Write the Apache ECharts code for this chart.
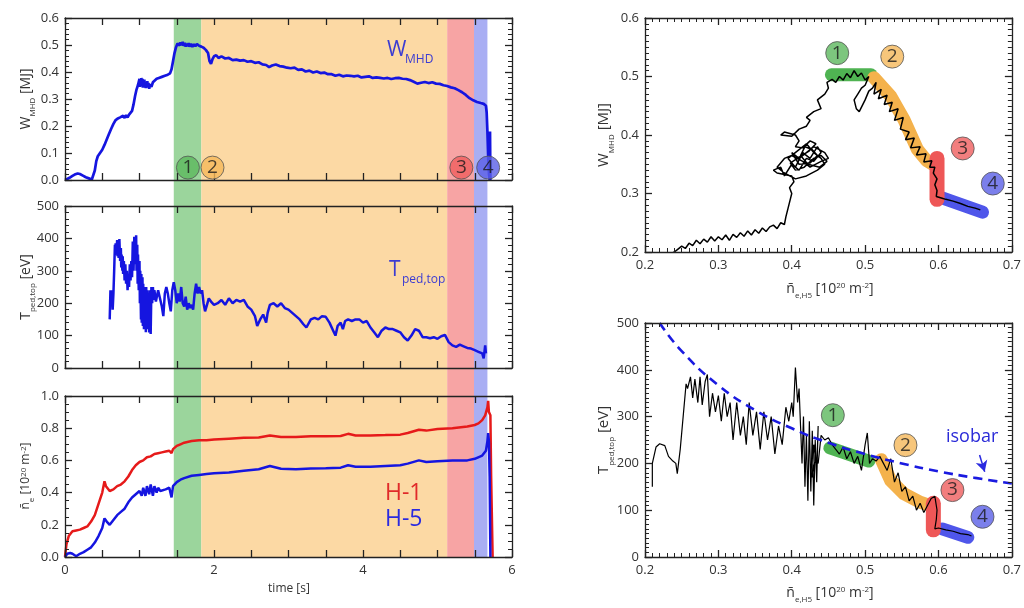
<!DOCTYPE html>
<html>
<head>
<meta charset="utf-8">
<script src="https://cdn.jsdelivr.net/npm/echarts/dist/echarts.min.js"></script>
<style>
html,body{margin:0;padding:0;background:#fff;}
#chart{width:1024px;height:608px;}
</style>
</head>
<body>
<div id="chart"></div>
<script>
// ---------------- DATA ----------------
const bandEdges = [1.46, 1.83, 5.13, 5.49, 5.67];   // phase boundaries in time [s]
const phaseLabels = ['1', '2', '3', '4'];

const wmhd = [
[0,0.0],[0.03,0.004],[0.06,0.008],[0.1,0.015],[0.13,0.02],[0.17,0.024],[0.2,0.022],[0.24,0.016],[0.28,0.01],[0.32,0.006],[0.36,0.002],[0.38,0.004],[0.4,0.035],[0.42,0.07],[0.44,0.088],[0.47,0.1],[0.5,0.112],[0.53,0.13],[0.56,0.15],[0.59,0.17],[0.62,0.19],[0.65,0.208],[0.68,0.222],[0.71,0.228],[0.74,0.232],[0.76,0.226],[0.78,0.238],[0.8,0.23],[0.82,0.24],[0.84,0.232],[0.86,0.242],[0.88,0.246],[0.9,0.256],[0.92,0.28],[0.94,0.31],[0.96,0.335],[0.98,0.352],[1.0,0.375],[1.005,0.345],[1.01,0.37],[1.02,0.348],[1.025,0.378],[1.03,0.35],[1.04,0.375],[1.045,0.342],[1.05,0.37],[1.06,0.345],[1.065,0.372],[1.07,0.342],[1.08,0.365],[1.085,0.34],[1.09,0.362],[1.1,0.344],[1.105,0.366],[1.11,0.342],[1.12,0.36],[1.13,0.338],[1.14,0.355],[1.16,0.345],[1.18,0.362],[1.2,0.368],[1.23,0.375],[1.26,0.378],[1.3,0.382],[1.34,0.386],[1.38,0.39],[1.41,0.395],[1.43,0.41],[1.45,0.44],[1.47,0.47],[1.49,0.492],[1.51,0.505],[1.53,0.512],[1.54,0.498],[1.55,0.51],[1.57,0.5],[1.58,0.512],[1.59,0.497],[1.61,0.508],[1.62,0.494],[1.63,0.505],[1.65,0.496],[1.66,0.507],[1.67,0.494],[1.69,0.504],[1.71,0.493],[1.73,0.503],[1.75,0.495],[1.77,0.504],[1.8,0.497],[1.83,0.494],[1.86,0.49],[1.89,0.482],[1.92,0.47],[1.94,0.44],[1.96,0.43],[1.98,0.448],[2.0,0.458],[2.03,0.462],[2.06,0.452],[2.1,0.458],[2.15,0.45],[2.2,0.452],[2.25,0.444],[2.3,0.446],[2.35,0.442],[2.4,0.444],[2.45,0.438],[2.5,0.44],[2.55,0.434],[2.6,0.436],[2.65,0.428],[2.7,0.426],[2.74,0.418],[2.78,0.424],[2.83,0.428],[2.88,0.422],[2.93,0.42],[2.98,0.416],[3.03,0.414],[3.08,0.416],[3.13,0.408],[3.18,0.41],[3.23,0.402],[3.28,0.405],[3.33,0.398],[3.38,0.402],[3.43,0.396],[3.48,0.398],[3.53,0.392],[3.58,0.392],[3.63,0.386],[3.68,0.39],[3.73,0.384],[3.78,0.387],[3.83,0.386],[3.88,0.384],[3.93,0.386],[3.98,0.38],[4.03,0.382],[4.08,0.384],[4.13,0.378],[4.18,0.38],[4.23,0.378],[4.28,0.376],[4.33,0.378],[4.38,0.374],[4.43,0.377],[4.48,0.378],[4.53,0.375],[4.58,0.374],[4.63,0.37],[4.68,0.364],[4.73,0.357],[4.78,0.36],[4.83,0.363],[4.88,0.359],[4.93,0.362],[4.98,0.357],[5.03,0.356],[5.08,0.351],[5.13,0.348],[5.18,0.343],[5.23,0.34],[5.28,0.333],[5.33,0.325],[5.38,0.315],[5.43,0.303],[5.48,0.295],[5.53,0.289],[5.58,0.285],[5.62,0.282],[5.65,0.275],[5.66,0.25],[5.67,0.18],[5.68,0.09],[5.69,0.02],[5.7,0.0],[5.705,0.18],[5.71,0.0]
];
const tped = [
[0.6,150],[0.61,240],[0.62,215],[0.63,240],[0.64,180],[0.65,230],[0.66,300],[0.67,380],[0.675,350],[0.68,385],[0.69,360],[0.7,395],[0.705,345],[0.71,390],[0.72,340],[0.73,398],[0.74,330],[0.75,370],[0.755,310],[0.76,350],[0.77,300],[0.775,345],[0.78,290],[0.79,330],[0.8,270],[0.81,320],[0.82,260],[0.83,300],[0.84,240],[0.85,290],[0.86,250],[0.87,320],[0.88,270],[0.89,330],[0.9,280],[0.91,390],[0.92,300],[0.93,405],[0.935,320],[0.94,400],[0.95,330],[0.955,410],[0.96,300],[0.97,380],[0.975,260],[0.98,350],[0.99,240],[1.0,330],[1.005,200],[1.01,300],[1.02,150],[1.025,290],[1.03,140],[1.04,280],[1.045,130],[1.05,260],[1.06,120],[1.065,250],[1.07,130],[1.08,240],[1.085,110],[1.09,250],[1.1,140],[1.105,240],[1.11,120],[1.12,230],[1.13,110],[1.14,240],[1.15,105],[1.16,250],[1.17,200],[1.18,250],[1.19,210],[1.2,240],[1.22,205],[1.25,240],[1.28,210],[1.3,190],[1.32,160],[1.34,230],[1.36,250],[1.38,230],[1.4,200],[1.42,175],[1.44,240],[1.46,265],[1.48,240],[1.5,200],[1.52,230],[1.54,205],[1.56,250],[1.58,200],[1.6,190],[1.62,220],[1.64,180],[1.66,200],[1.68,185],[1.7,195],[1.72,180],[1.74,230],[1.76,260],[1.78,230],[1.8,250],[1.82,230],[1.84,240],[1.86,200],[1.88,175],[1.9,190],[1.93,215],[1.96,205],[2.0,195],[2.05,200],[2.1,210],[2.15,195],[2.2,215],[2.25,200],[2.3,210],[2.35,205],[2.4,210],[2.45,190],[2.5,180],[2.55,160],[2.58,130],[2.62,150],[2.66,165],[2.7,140],[2.72,170],[2.75,195],[2.8,200],[2.85,190],[2.9,200],[2.95,185],[3.0,180],[3.05,170],[3.1,160],[3.15,150],[3.2,135],[3.24,125],[3.3,150],[3.35,155],[3.4,150],[3.45,160],[3.5,158],[3.55,140],[3.6,115],[3.63,100],[3.66,130],[3.7,140],[3.73,120],[3.76,145],[3.8,150],[3.85,145],[3.9,150],[3.95,150],[4.0,140],[4.05,145],[4.1,125],[4.15,110],[4.2,95],[4.25,115],[4.3,125],[4.35,120],[4.4,120],[4.45,115],[4.5,110],[4.55,95],[4.6,85],[4.65,100],[4.7,120],[4.75,115],[4.8,95],[4.85,95],[4.9,92],[4.95,95],[5.0,90],[5.05,98],[5.1,102],[5.15,80],[5.2,70],[5.25,65],[5.3,72],[5.35,67],[5.4,62],[5.45,60],[5.5,55],[5.55,50],[5.6,45],[5.62,30],[5.64,70],[5.65,45]
];
const neH1 = [
[0,0.0],[0.02,0.08],[0.05,0.13],[0.1,0.16],[0.15,0.165],[0.2,0.17],[0.25,0.18],[0.3,0.19],[0.35,0.22],[0.4,0.26],[0.45,0.33],[0.5,0.4],[0.53,0.47],[0.55,0.44],[0.6,0.41],[0.65,0.42],[0.7,0.44],[0.75,0.45],[0.8,0.47],[0.85,0.5],[0.9,0.54],[0.95,0.57],[1.0,0.59],[1.05,0.6],[1.1,0.62],[1.15,0.625],[1.2,0.64],[1.25,0.645],[1.3,0.65],[1.35,0.655],[1.4,0.66],[1.43,0.645],[1.45,0.67],[1.5,0.69],[1.55,0.7],[1.6,0.71],[1.7,0.72],[1.8,0.725],[1.9,0.725],[2.0,0.73],[2.2,0.735],[2.4,0.74],[2.6,0.742],[2.75,0.755],[2.9,0.745],[3.1,0.745],[3.3,0.75],[3.5,0.75],[3.7,0.752],[3.8,0.765],[3.9,0.755],[4.1,0.755],[4.3,0.757],[4.5,0.76],[4.6,0.77],[4.75,0.79],[4.85,0.785],[5.0,0.795],[5.2,0.8],[5.4,0.81],[5.5,0.82],[5.55,0.83],[5.6,0.85],[5.64,0.88],[5.67,0.93],[5.68,0.97],[5.69,0.9],[5.71,0.88],[5.72,0.5],[5.74,0.0]
];
const neH5 = [
[0,0.0],[0.03,0.02],[0.07,0.025],[0.1,0.02],[0.15,0.005],[0.2,0.02],[0.25,0.03],[0.3,0.045],[0.35,0.06],[0.4,0.09],[0.45,0.13],[0.5,0.18],[0.53,0.24],[0.56,0.22],[0.6,0.2],[0.65,0.23],[0.7,0.26],[0.75,0.28],[0.8,0.3],[0.85,0.34],[0.9,0.37],[0.95,0.39],[1.0,0.41],[1.03,0.38],[1.05,0.43],[1.08,0.38],[1.1,0.44],[1.13,0.39],[1.15,0.45],[1.18,0.38],[1.2,0.44],[1.23,0.4],[1.25,0.43],[1.28,0.41],[1.3,0.42],[1.35,0.42],[1.4,0.43],[1.43,0.37],[1.45,0.44],[1.5,0.465],[1.55,0.48],[1.6,0.49],[1.7,0.505],[1.8,0.51],[1.9,0.515],[2.0,0.52],[2.2,0.525],[2.4,0.535],[2.6,0.545],[2.75,0.565],[2.9,0.548],[3.1,0.545],[3.3,0.55],[3.5,0.552],[3.7,0.555],[3.8,0.57],[3.9,0.56],[4.1,0.56],[4.3,0.565],[4.5,0.57],[4.6,0.58],[4.75,0.6],[4.85,0.59],[5.0,0.595],[5.2,0.6],[5.4,0.6],[5.5,0.61],[5.6,0.63],[5.65,0.66],[5.67,0.72],[5.68,0.77],[5.69,0.72],[5.7,0.5],[5.71,0.0]
];
const circlesTime = [[1.65,0.046],[1.98,0.046],[5.32,0.046],[5.68,0.046]];

const wTraj = [
[0.232,0.195],[0.24,0.2],[0.245,0.205],[0.25,0.21],[0.255,0.206],[0.26,0.215],[0.265,0.211],[0.27,0.22],[0.275,0.214],[0.28,0.222],[0.285,0.217],[0.29,0.226],[0.295,0.219],[0.3,0.226],[0.305,0.221],[0.31,0.229],[0.315,0.22],[0.32,0.23],[0.325,0.225],[0.33,0.233],[0.335,0.227],[0.34,0.236],[0.345,0.229],[0.35,0.238],[0.355,0.232],[0.36,0.241],[0.365,0.235],[0.37,0.243],[0.375,0.246],[0.38,0.24],[0.385,0.25],[0.39,0.247],[0.392,0.26],[0.395,0.275],[0.398,0.29],[0.4,0.3],[0.397,0.31],[0.403,0.32],[0.4,0.33],[0.38,0.335],[0.375,0.34],[0.385,0.345],[0.39,0.33],[0.4,0.35],[0.41,0.34],[0.42,0.36],[0.43,0.355],[0.44,0.37],[0.435,0.38],[0.425,0.36],[0.415,0.37],[0.405,0.345],[0.395,0.36],[0.41,0.375],[0.42,0.385],[0.43,0.37],[0.44,0.36],[0.445,0.35],[0.435,0.34],[0.42,0.33],[0.405,0.325],[0.39,0.335],[0.38,0.345],[0.39,0.36],[0.4,0.365],[0.415,0.355],[0.425,0.345],[0.44,0.355],[0.45,0.36],[0.445,0.37],[0.43,0.38],[0.42,0.37],[0.41,0.36],[0.4,0.37],[0.41,0.35],[0.425,0.352],[0.435,0.365],[0.428,0.375],[0.418,0.38],[0.412,0.365],[0.422,0.35],[0.438,0.345],[0.448,0.355],[0.44,0.365],[0.43,0.36],[0.417,0.345],[0.405,0.34],[0.398,0.352],[0.41,0.362],[0.423,0.372],[0.433,0.385],[0.425,0.39],[0.415,0.378],[0.405,0.38],[0.41,0.39],[0.405,0.4],[0.39,0.405],[0.385,0.4],[0.4,0.398],[0.41,0.41],[0.42,0.415],[0.425,0.425],[0.42,0.43],[0.43,0.44],[0.44,0.445],[0.435,0.46],[0.445,0.47],[0.45,0.48],[0.448,0.49],[0.455,0.495],[0.46,0.49],[0.465,0.5],[0.47,0.494],[0.475,0.505],[0.48,0.498],[0.485,0.51],[0.49,0.5],[0.495,0.506],[0.5,0.494],[0.505,0.5],[0.5,0.485],[0.495,0.48],[0.49,0.47],[0.485,0.46],[0.488,0.445],[0.492,0.44],[0.5,0.46],[0.505,0.475],[0.51,0.48],[0.515,0.49],[0.512,0.47],[0.522,0.478],[0.518,0.462],[0.53,0.468],[0.526,0.452],[0.537,0.456],[0.533,0.44],[0.545,0.445],[0.54,0.425],[0.552,0.43],[0.548,0.41],[0.56,0.405],[0.555,0.392],[0.567,0.395],[0.562,0.378],[0.575,0.38],[0.57,0.366],[0.583,0.368],[0.58,0.354],[0.591,0.356],[0.588,0.345],[0.595,0.345],[0.593,0.335],[0.598,0.325],[0.595,0.315],[0.598,0.305],[0.597,0.295],[0.605,0.292],[0.61,0.29],[0.62,0.287],[0.63,0.283],[0.64,0.278],[0.65,0.275],[0.657,0.272]
];
const wPhase1 = [[0.454,0.503],[0.508,0.503]];
const wPhase2 = [[0.512,0.498],[0.535,0.466],[0.553,0.426],[0.571,0.376],[0.584,0.356],[0.592,0.35]];
const wPhase3 = [[0.598,0.36],[0.598,0.29]];
const wPhase4 = [[0.602,0.294],[0.66,0.268]];
const wCircles = [[0.462,0.54],[0.537,0.534],[0.633,0.377],[0.674,0.317]];

const tTraj = [
[0.21,150],[0.21,200],[0.215,235],[0.22,242],[0.227,238],[0.232,215],[0.238,205],[0.242,200],[0.244,178],[0.248,230],[0.252,300],[0.256,370],[0.258,360],[0.262,385],[0.265,340],[0.268,380],[0.272,330],[0.275,385],[0.278,325],[0.282,375],[0.285,390],[0.288,300],[0.292,350],[0.296,310],[0.3,345],[0.304,290],[0.308,350],[0.312,300],[0.316,330],[0.32,250],[0.325,330],[0.33,260],[0.334,300],[0.338,240],[0.342,330],[0.347,260],[0.352,310],[0.357,230],[0.362,310],[0.367,250],[0.372,300],[0.377,220],[0.382,280],[0.387,240],[0.392,320],[0.396,290],[0.4,330],[0.402,300],[0.405,405],[0.408,330],[0.41,360],[0.412,280],[0.414,200],[0.416,300],[0.418,150],[0.42,260],[0.422,120],[0.424,290],[0.426,140],[0.428,270],[0.43,110],[0.432,250],[0.434,160],[0.436,280],[0.434,190],[0.43,240],[0.428,170],[0.432,210],[0.436,200],[0.44,260],[0.445,250],[0.45,255],[0.455,240],[0.46,230],[0.465,220],[0.47,235],[0.475,210],[0.48,225],[0.485,200],[0.49,215],[0.495,185],[0.5,240],[0.503,265],[0.506,200],[0.51,210],[0.515,205],[0.52,215],[0.525,200],[0.53,185],[0.535,210],[0.54,160],[0.545,180],[0.55,140],[0.555,150],[0.56,120],[0.565,130],[0.57,100],[0.575,115],[0.58,95],[0.585,110],[0.59,125],[0.595,130],[0.598,100],[0.597,80],[0.595,60],[0.6,62],[0.61,58],[0.62,55],[0.63,50],[0.64,48],[0.645,45]
];
const isobar = [[0.22,500],[0.25,440],[0.3,367],[0.35,314],[0.4,275],[0.45,244],[0.5,220],[0.55,200],[0.6,183],[0.65,169],[0.7,157]];
const tPhase1 = [[0.452,233],[0.505,205]];
const tPhase2 = [[0.522,208],[0.535,163],[0.553,135],[0.575,117],[0.585,112]];
const tPhase3 = [[0.593,115],[0.593,58]];
const tPhase4 = [[0.605,60],[0.64,42]];
const tCircles = [[0.456,303],[0.555,239],[0.619,143],[0.66,86]];
const isobarArrow = [[0.656,218],[0.663,182]];

// ---------------- STYLE ----------------
const FONT = "'Open Sans', 'DejaVu Sans', sans-serif";
const AX = '#222';
const phaseFill = ['#5cb85e', '#f5b85a', '#ef5e5e', '#5a5fe6'];
const bandFill = ['#9bd59c', '#fcd9a4', '#f7a4a4', '#a9aef3'];
const strokeCol = ['#4fb352', '#f4b24c', '#ee5757', '#4f56ea'];

function makeAxis(kind, side, g, min, max, interval, minor, labelShow, fmt) {
  const ax = {
    gridIndex: g, type: 'value', min: min, max: max, interval: interval, z: 10, position: side,
    axisLine: {show: true, onZero: false, lineStyle: {color: AX, width: 1.3}},
    axisTick: {show: true, inside: true, length: 7, lineStyle: {color: AX, width: 1.3}},
    splitLine: {show: false}
  };
  if (minor > 0) ax.minorTick = {show: true, splitNumber: minor, length: 4, lineStyle: {color: AX, width: 1}};
  ax.axisLabel = labelShow ? {show: true, formatter: fmt, margin: kind === 'x' ? 7 : 6, color: '#333', fontSize: 13, fontFamily: FONT} : {show: false};
  return ax;
}
function axisPair(kind, g, min, max, interval, minor, labelShow, fmt) {
  return [
    makeAxis(kind, kind === 'x' ? 'bottom' : 'left', g, min, max, interval, minor, labelShow, fmt),
    makeAxis(kind, kind === 'x' ? 'top' : 'right', g, min, max, interval, minor, false)
  ];
}
const f1 = v => v.toFixed(1);
const fInt = v => String(Math.round(v));
const fTime = v => (Math.abs(v % 2) < 1e-9 ? String(v) : '');

const xAxes = [{gridIndex: 0, type: 'value', min: 0, max: 6, show: false}];
const yAxes = [{gridIndex: 0, type: 'value', min: 0, max: 1, show: false}];
xAxes.push(...axisPair('x', 1, 0, 6, 0.5, 0, false, fTime));
xAxes.push(...axisPair('x', 2, 0, 6, 0.5, 0, false, fTime));
xAxes.push(...axisPair('x', 3, 0, 6, 0.5, 0, true, fTime));
xAxes.push(...axisPair('x', 4, 0.2, 0.7, 0.1, 10, true, f1));
xAxes.push(...axisPair('x', 5, 0.2, 0.7, 0.1, 10, true, f1));
yAxes.push(...axisPair('y', 1, 0, 0.6, 0.1, 5, true, f1));
yAxes.push(...axisPair('y', 2, 0, 500, 100, 5, true, fInt));
yAxes.push(...axisPair('y', 3, 0, 1.0, 0.2, 4, true, f1));
yAxes.push(...axisPair('y', 4, 0.2, 0.6, 0.1, 10, true, f1));
yAxes.push(...axisPair('y', 5, 0, 500, 100, 10, true, fInt));

const L = 65, W = 447, R = 645, RW = 371;
const grids = [
  {left: L, top: 18, width: W, height: 539},
  {left: L, top: 18, width: W, height: 162},
  {left: L, top: 206, width: W, height: 162},
  {left: L, top: 396, width: W, height: 161},
  {left: R, top: 18, width: RW, height: 234},
  {left: R, top: 323, width: RW, height: 234}
];

function circleSeries(xi, yi, pts) {
  return {
    type: 'scatter', xAxisIndex: xi, yAxisIndex: yi, z: 10, silent: true, symbolSize: 23,
    data: pts.map((p, i) => ({value: p, name: phaseLabels[i], itemStyle: {color: phaseFill[i], borderColor: '#555', borderWidth: 1}})),
    label: {show: true, position: 'inside', formatter: p => p.name, fontSize: 19, color: '#1a1a1a', fontFamily: FONT}
  };
}
function strokeSeries(xi, yi, pts, i, w) {
  return {
    type: 'line', xAxisIndex: xi, yAxisIndex: yi, z: 2, silent: true, symbol: 'none',
    data: pts, lineStyle: {color: strokeCol[i], width: w, cap: 'round', join: 'round'}
  };
}

const bandData = [];
for (let i = 0; i < 4; i++) {
  bandData.push([{xAxis: bandEdges[i], itemStyle: {color: bandFill[i]}}, {xAxis: bandEdges[i + 1]}]);
}

const series = [
  {type: 'line', xAxisIndex: 0, yAxisIndex: 0, data: [[0, -1]], symbol: 'none', silent: true, z: 0,
   markArea: {silent: true, data: bandData}},
  {type: 'line', xAxisIndex: 1, yAxisIndex: 1, data: wmhd, symbol: 'none', z: 3, lineStyle: {color: '#1515e0', width: 2.7}},
  circleSeries(1, 1, circlesTime),
  {type: 'line', xAxisIndex: 3, yAxisIndex: 3, data: tped, symbol: 'none', z: 3, lineStyle: {color: '#1515e0', width: 2.5}},
  {type: 'line', xAxisIndex: 5, yAxisIndex: 5, data: neH1, symbol: 'none', z: 3, lineStyle: {color: '#e61a1a', width: 2.5}},
  {type: 'line', xAxisIndex: 5, yAxisIndex: 5, data: neH5, symbol: 'none', z: 3, lineStyle: {color: '#1515e0', width: 2.5}},
  strokeSeries(7, 7, wPhase1, 0, 13),
  strokeSeries(7, 7, wPhase2, 1, 13),
  strokeSeries(7, 7, wPhase4, 3, 13),
  strokeSeries(7, 7, wPhase3, 2, 15),
  {type: 'line', xAxisIndex: 7, yAxisIndex: 7, data: wTraj, symbol: 'none', z: 4, lineStyle: {color: '#000', width: 1.5}},
  circleSeries(7, 7, wCircles),
  strokeSeries(9, 9, tPhase1, 0, 13),
  strokeSeries(9, 9, tPhase2, 1, 13),
  strokeSeries(9, 9, tPhase4, 3, 13),
  strokeSeries(9, 9, tPhase3, 2, 15),
  {type: 'line', xAxisIndex: 9, yAxisIndex: 9, data: tTraj, symbol: 'none', z: 4, lineStyle: {color: '#000', width: 1.2}},
  {type: 'line', xAxisIndex: 9, yAxisIndex: 9, data: isobar, symbol: 'none', smooth: true, z: 5,
   lineStyle: {color: '#1a1ae0', width: 2.6, type: [9, 6]},
   markLine: {silent: true, symbol: ['none', 'arrow'], symbolSize: [9, 11], label: {show: false},
     lineStyle: {color: '#2a2ae0', width: 1.5, type: 'solid'},
     data: [[{coord: isobarArrow[0]}, {coord: isobarArrow[1]}]]}},
  circleSeries(9, 9, tCircles)
];

function richFor(size) {
  return {
    m: {fontSize: size, lineHeight: size + 2, verticalAlign: 'top', fontFamily: FONT, fill: '#333'},
    s: {fontSize: 8, lineHeight: 8, verticalAlign: 'top', padding: [size - 4, 0, 0, 0], fontFamily: FONT, fill: '#333'},
    p: {fontSize: 8, lineHeight: 8, verticalAlign: 'top', fontFamily: FONT, fill: '#333'}
  };
}
function axisTitle(text, x, y, size, rotated) {
  return {type: 'text', x: x, y: y, rotation: rotated ? Math.PI / 2 : 0, z: 20, silent: true,
    style: {text: text, rich: richFor(size), fontSize: size, fontFamily: FONT, fill: '#333', align: 'center', verticalAlign: 'middle'}};
}
const nLabel = '{m|n\u0304}{s|e,H5}{m| [10}{p|20}{m| m}{p|-2}{m|]}';

const graphic = [
  axisTitle('{m|W}{s|MHD}{m| [MJ]}', 27, 99, 14, true),
  axisTitle('{m|T}{s|ped,top}{m| [eV]}', 27, 287, 14, true),
  axisTitle('{m|n\u0304}{s|e}{m| [10}{p|20}{m| m}{p|-2}{m|]}', 27, 476, 12, true),
  axisTitle('{m|W}{s|MHD}{m| [MJ]}', 605, 135, 15, true),
  axisTitle('{m|T}{s|ped,top}{m| [eV]}', 605, 440, 15, true),
  axisTitle(nLabel, 830, 290, 14, false),
  axisTitle(nLabel, 830, 594, 14, false),
  axisTitle('{m|time [s]}', 289, 590, 12, false),
  {type: 'text', left: 387, top: 40, z: 20, style: {text: 'W', fontSize: 21, fontFamily: FONT, fill: '#3c3cd2'}},
  {type: 'text', left: 405, top: 54, z: 20, style: {text: 'MHD', fontSize: 12, fontFamily: FONT, fill: '#3c3cd2'}},
  {type: 'text', left: 389, top: 260, z: 20, style: {text: 'T', fontSize: 21, fontFamily: FONT, fill: '#3c3cd2'}},
  {type: 'text', left: 402, top: 274, z: 20, style: {text: 'ped,top', fontSize: 12, fontFamily: FONT, fill: '#3c3cd2'}},
  {type: 'text', left: 385, top: 482, z: 20, style: {text: 'H-1', fontSize: 23, fontFamily: FONT, fill: '#e02a2a'}},
  {type: 'text', left: 385, top: 508, z: 20, style: {text: 'H-5', fontSize: 23, fontFamily: FONT, fill: '#2a2ae0'}},
  {type: 'text', left: 946, top: 428, z: 20, style: {text: 'isobar', fontSize: 18, fontFamily: FONT, fill: '#2a2ad8'}}
];

const chart = echarts.init(document.getElementById('chart'));
chart.setOption({
  animation: false,
  grid: grids,
  xAxis: xAxes,
  yAxis: yAxes,
  series: series,
  graphic: graphic
});
</script>
</body>
</html>
